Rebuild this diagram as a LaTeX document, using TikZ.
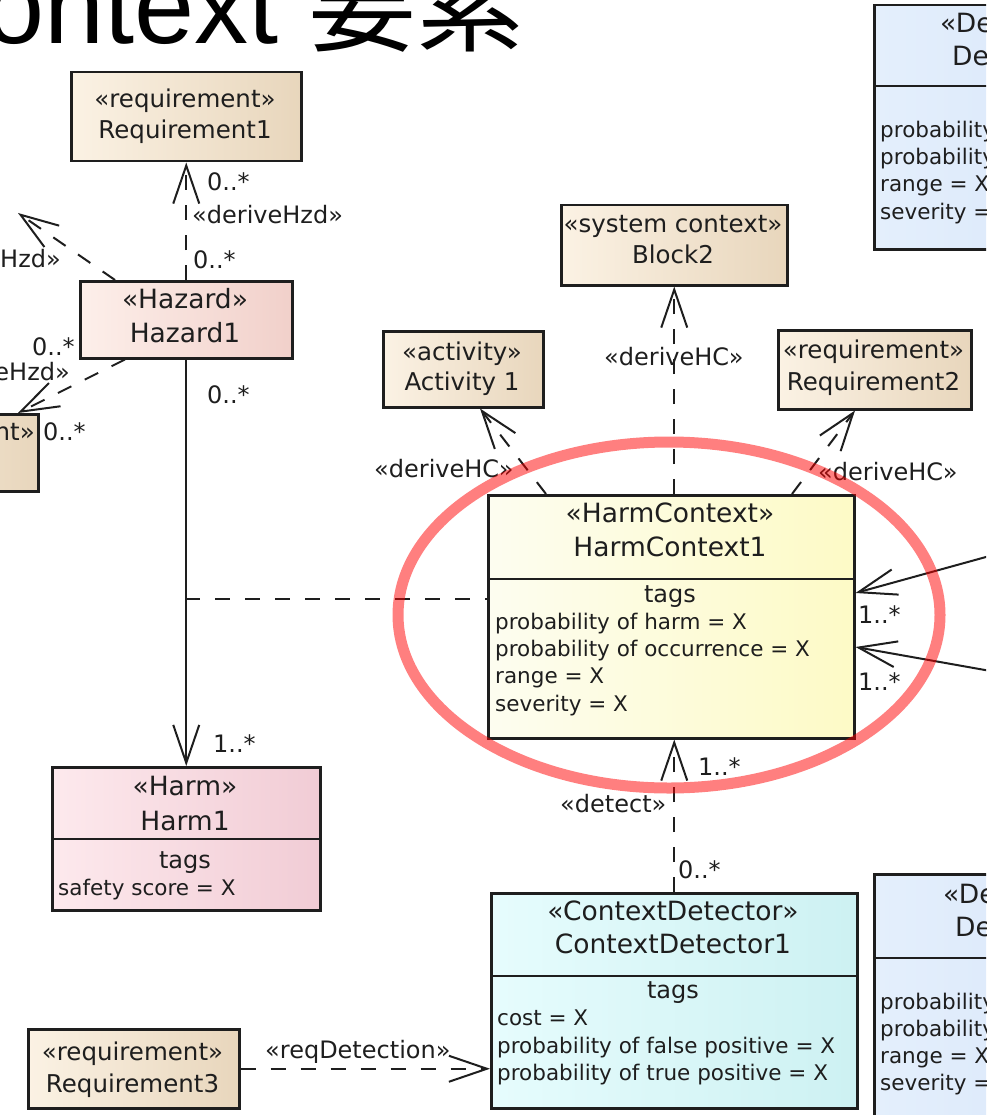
\documentclass[tikz,border=0pt]{standalone}
\usepackage{fontspec}
\setmainfont{DejaVu Sans}
\newfontfamily\titlefont{Liberation Sans}
\newfontfamily\cjkfont{Noto Sans CJK JP}
\usetikzlibrary{arrows.meta}

\definecolor{ink}{HTML}{1E1E1E}
\definecolor{tanL}{HTML}{FBF2E4}
\definecolor{tanR}{HTML}{E8D6BC}
\definecolor{hazL}{HTML}{FDEFEA}
\definecolor{hazR}{HTML}{F1D0CA}
\definecolor{harmL}{HTML}{FDE9ED}
\definecolor{harmR}{HTML}{F1CCD5}
\definecolor{hcL}{HTML}{FDFDF0}
\definecolor{hcR}{HTML}{FDFAC6}
\definecolor{cdL}{HTML}{E6FCFD}
\definecolor{cdR}{HTML}{CDF1F2}
\definecolor{detL}{HTML}{E4EFFC}
\definecolor{detR}{HTML}{D8E6FA}

\tikzset{
  classbox/.style={draw=ink, line width=2.5pt, inner sep=0pt, anchor=north west},
  tanbox/.style={classbox, left color=tanL, right color=tanR},
  hazbox/.style={classbox, left color=hazL, right color=hazR},
  harmbox/.style={classbox, left color=harmL, right color=harmR},
  hcbox/.style={classbox, left color=hcL, right color=hcR},
  cdbox/.style={classbox, left color=cdL, right color=cdR},
  detbox/.style={classbox, left color=detL, right color=detR},
  sepline/.style={draw=ink, line width=2.5pt},
  tanhdr/.style={inner sep=0pt, anchor=base, text=ink, font=\fontsize{24.5}{29}\selectfont},
  hdr/.style={inner sep=0pt, anchor=base, text=ink, font=\fontsize{26.5}{31}\selectfont},
  hdrw/.style={inner sep=0pt, anchor=base west, text=ink, font=\fontsize{26.5}{31}\selectfont},
  tagsf/.style={inner sep=0pt, anchor=base, text=ink, font=\fontsize{24}{28}\selectfont},
  attr/.style={inner sep=0pt, anchor=base west, text=ink, font=\fontsize{21.5}{26}\selectfont},
  lbl/.style={inner sep=0pt, anchor=base west, text=ink, font=\fontsize{24}{28}\selectfont},
  lble/.style={lbl, anchor=base east},
  conn/.style={draw=ink, line width=2pt},
  dep/.style={conn, dash pattern=on 15pt off 15pt, -{Straight Barb[length=38pt,width=26pt]}},
  navarrow/.style={conn, -{Straight Barb[length=38pt,width=26pt]}},
  assoclink/.style={conn, dash pattern=on 15pt off 15pt},
}

\begin{document}
\begin{tikzpicture}[x=1pt, y=-1pt]
\useasboundingbox (0,0) rectangle (986,1115);
\clip (0,0) rectangle (986,1115);

% page heading
\node[inner sep=0pt, anchor=base west, font=\fontsize{108}{120}\selectfont] (heading)
  at (-94,44) {\titlefont Context \cjkfont 要素};

% ---------- classes ----------
\node[tanbox, minimum width=230pt, minimum height=89pt] (req1) at (70,71) {};
\node[tanhdr] (req1-st) at (185,108) {«requirement»};
\node[tanhdr] (req1-nm) at (185,139) {Requirement1};

\node[hazbox, minimum width=212pt, minimum height=77pt] (haz) at (79,280) {};
\node[hdr] (haz-st) at (185,308) {«Hazard»};
\node[hdr] (haz-nm) at (185,342) {Hazard1};

\node[tanbox, minimum width=212pt, minimum height=77pt] (lreq) at (-175,413) {};
\node[tanhdr, anchor=base east] (lreq-st) at (35,440) {«requirement»};

\node[harmbox, minimum width=268pt, minimum height=143pt] (harm) at (51,766) {};
\draw[sepline] (harm.west |- 0,839) -- (harm.east |- 0,839);
\node[hdr] (harm-st) at (185,795) {«Harm»};
\node[hdr] (harm-nm) at (185,830) {Harm1};
\node[tagsf] (harm-tg) at (185,868) {tags};
\node[attr] (harm-a1) at (58,895) {safety score = X};

\node[tanbox, minimum width=211pt, minimum height=79pt] (req3) at (27,1028) {};
\node[tanhdr] (req3-st) at (132.5,1060) {«requirement»};
\node[tanhdr] (req3-nm) at (132.5,1092) {Requirement3};

\node[tanbox, minimum width=226pt, minimum height=80pt] (blk) at (560,204) {};
\node[tanhdr] (blk-st) at (673,233) {«system context»};
\node[tanhdr] (blk-nm) at (673,263) {Block2};

\node[tanbox, minimum width=160pt, minimum height=76pt] (act) at (382,330) {};
\node[tanhdr] (act-st) at (462,360) {«activity»};
\node[tanhdr] (act-nm) at (462,390) {Activity 1};

\node[tanbox, minimum width=193pt, minimum height=79pt] (req2) at (777,329) {};
\node[tanhdr] (req2-st) at (873.5,358) {«requirement»};
\node[tanhdr] (req2-nm) at (873.5,390) {Requirement2};

\node[hcbox, minimum width=366pt, minimum height=243pt] (hc) at (487,494) {};
\draw[sepline] (hc.west |- 0,579) -- (hc.east |- 0,579);
\node[hdr] (hc-st) at (670,522) {«HarmContext»};
\node[hdr] (hc-nm) at (670,556) {HarmContext1};
\node[tagsf] (hc-tg) at (670,602) {tags};
\node[attr] (hc-a1) at (495,629) {probability of harm = X};
\node[attr] (hc-a2) at (495,656) {probability of occurrence = X};
\node[attr] (hc-a3) at (495,683) {range = X};
\node[attr] (hc-a4) at (495,711) {severity = X};

\node[cdbox, minimum width=366pt, minimum height=215pt] (cd) at (490,892) {};
\draw[sepline] (cd.west |- 0,976) -- (cd.east |- 0,976);
\node[hdr] (cd-st) at (673,920) {«ContextDetector»};
\node[hdr] (cd-nm) at (673,953) {ContextDetector1};
\node[tagsf] (cd-tg) at (673,998) {tags};
\node[attr] (cd-a1) at (497,1025) {cost = X};
\node[attr] (cd-a2) at (497,1053) {probability of false positive = X};
\node[attr] (cd-a3) at (497,1080) {probability of true positive = X};

\node[detbox, minimum width=250pt, minimum height=244pt] (detA) at (873,4) {};
\draw[sepline] (detA.west |- 0,86) -- (detA.east |- 0,86);
\node[hdrw] (detA-st) at (940,33) {«De};
\node[hdrw] (detA-nm) at (952,66) {De};
\node[attr] (detA-a1) at (880,138) {probability};
\node[attr] (detA-a2) at (880,165) {probability};
\node[attr] (detA-a3) at (880,192) {range = X};
\node[attr] (detA-a4) at (880,219) {severity =};

\node[detbox, minimum width=250pt, minimum height=300pt] (detB) at (873,873) {};
\draw[sepline] (detB.west |- 0,958) -- (detB.east |- 0,958);
\node[hdrw] (detB-st) at (943,903) {«De};
\node[hdrw] (detB-nm) at (955,936) {De};
\node[attr] (detB-a1) at (880,1009) {probability};
\node[attr] (detB-a2) at (880,1036) {probability};
\node[attr] (detB-a3) at (880,1063) {range = X};
\node[attr] (detB-a4) at (880,1090) {severity =};

% ---------- connectors ----------
\coordinate (hzdTarget) at (18,213);
\coordinate (assocPt) at (185,599);
\coordinate (inA) at (1120,520);
\coordinate (inB) at (1120,694);

\draw[dep] (haz.north) -- (req1.south);
\draw[dep] (115,0 |- haz.north) -- (hzdTarget);
\draw[dep] (125,0 |- haz.south) -- (18,0 |- lreq.north);
\draw[navarrow] (haz.south) -- (harm.north);
\draw[assoclink] (assocPt) -- (assocPt -| hc.west);

\draw[dep] (546,0 |- hc.north) -- (480,0 |- act.south);
\draw[dep] (blk.south |- hc.north) -- (blk.south);
\draw[dep] (792,0 |- hc.north) -- (855,0 |- req2.south);
\draw[dep] (cd.north) -- (cd.north |- hc.south);
\draw[dep] (req3.east) -- (req3.east -| cd.west);

\draw[navarrow] (inA) -- (hc.east |- 0,593);
\draw[navarrow] (inB) -- (hc.east |- 0,647);

% ---------- connector labels ----------
\node[lbl] (m1) at (207,191) {0..*};
\node[lbl] (s1) at (192,223) {«deriveHzd»};
\node[lbl] (m2) at (193,268) {0..*};
\node[lble] (s2) at (61,267) {«deriveHzd»};
\node[lbl] (m3) at (32,355) {0..*};
\node[lble] (s3) at (70,380) {«deriveHzd»};
\node[lbl] (m4) at (43,440) {0..*};
\node[lbl] (m5) at (207,403) {0..*};
\node[lbl] (m6) at (213,752) {1..*};
\node[lbl] (s4) at (374,477) {«deriveHC»};
\node[lbl] (s5) at (604,365) {«deriveHC»};
\node[lbl] (s6) at (818,480) {«deriveHC»};
\node[lbl] (m7) at (858,623) {1..*};
\node[lbl] (m8) at (858,690) {1..*};
\node[lbl] (m9) at (698,775) {1..*};
\node[lbl] (s7) at (560,812) {«detect»};
\node[lbl] (m10) at (678,878) {0..*};
\node[lbl] (s8) at (265,1058) {«reqDetection»};

% highlight ring around the harm context
\draw[red, opacity=0.5, line width=11pt] (669,615) ellipse [x radius=271pt, y radius=173pt];
\end{tikzpicture}
\end{document}
